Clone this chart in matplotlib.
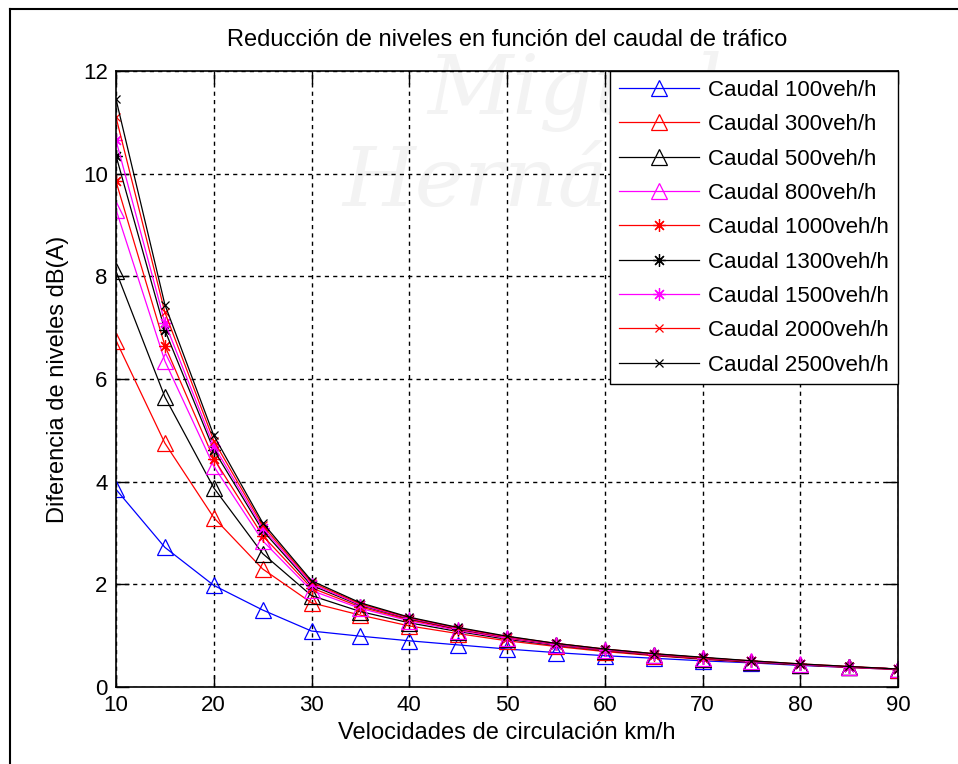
import matplotlib.pyplot as plt
from matplotlib.lines import Line2D

# Velocidades de circulacion (km/h)
velocidades = [10, 15, 20, 25, 30, 35, 40, 45, 50, 55, 60, 65, 70, 75, 80, 85, 90]

# Diferencia de niveles dB(A) para cada caudal
caudal_100 = [3.85, 2.72, 1.98, 1.50, 1.09, 0.99, 0.90, 0.82, 0.74, 0.67, 0.61, 0.56, 0.51, 0.47, 0.42, 0.38, 0.34]
caudal_300 = [6.75, 4.75, 3.30, 2.30, 1.64, 1.40, 1.19, 1.04, 0.90, 0.79, 0.69, 0.61, 0.54, 0.48, 0.43, 0.38, 0.34]
caudal_500 = [8.10, 5.65, 3.88, 2.60, 1.78, 1.47, 1.25, 1.08, 0.93, 0.81, 0.71, 0.62, 0.55, 0.49, 0.43, 0.39, 0.35]
caudal_800 = [9.30, 6.35, 4.30, 2.85, 1.88, 1.53, 1.29, 1.10, 0.95, 0.82, 0.72, 0.63, 0.56, 0.50, 0.44, 0.39, 0.35]
caudal_1000 = [9.85, 6.65, 4.45, 2.95, 1.93, 1.56, 1.31, 1.12, 0.96, 0.83, 0.72, 0.63, 0.56, 0.50, 0.44, 0.39, 0.35]
caudal_1300 = [10.35, 6.95, 4.62, 3.05, 1.98, 1.59, 1.33, 1.13, 0.97, 0.84, 0.73, 0.64, 0.57, 0.50, 0.44, 0.39, 0.35]
caudal_1500 = [10.65, 7.10, 4.70, 3.10, 2.01, 1.60, 1.34, 1.14, 0.97, 0.84, 0.73, 0.64, 0.57, 0.50, 0.44, 0.39, 0.35]
caudal_2000 = [11.10, 7.30, 4.80, 3.15, 2.04, 1.62, 1.35, 1.15, 0.98, 0.85, 0.74, 0.65, 0.57, 0.51, 0.45, 0.40, 0.35]
caudal_2500 = [11.45, 7.45, 4.90, 3.20, 2.07, 1.64, 1.36, 1.16, 0.99, 0.85, 0.74, 0.65, 0.58, 0.51, 0.45, 0.40, 0.35]

etiquetas = ['Caudal 100veh/h', 'Caudal 300veh/h', 'Caudal 500veh/h', 'Caudal 800veh/h',
             'Caudal 1000veh/h', 'Caudal 1300veh/h', 'Caudal 1500veh/h', 'Caudal 2000veh/h',
             'Caudal 2500veh/h']

series = [caudal_100, caudal_300, caudal_500, caudal_800, caudal_1000,
          caudal_1300, caudal_1500, caudal_2000, caudal_2500]

colores = ['blue', 'red', 'black', 'magenta', 'red', 'black', 'magenta', 'red', 'black']
asterisco = (8, 2, 0)
marcadores = ['^', '^', '^', '^', asterisco, asterisco, asterisco, 'x', 'x']
tam_marcador = [12, 12, 12, 12, 9, 9, 9, 6, 6]

plt.rcParams['font.family'] = ['Liberation Sans', 'DejaVu Sans']

fig = plt.figure(figsize=(9.58, 7.64), dpi=100)
ax = fig.add_axes([116 / 958, 1 - 687 / 764, (898 - 116) / 958, (687 - 71) / 764])

# marca de agua de fondo, por debajo de los ejes
fig.text(0.60, 0.88, 'Miguel', fontsize=60, style='italic', family='DejaVu Serif',
         color='#f3f3f3', ha='center', va='center', zorder=-5)
fig.text(0.60, 0.76, 'Hernández', fontsize=60, style='italic', family='DejaVu Serif',
         color='#f3f3f3', ha='center', va='center', zorder=-5)
ax.patch.set_alpha(0)

for y, c, m, ms, lab in zip(series, colores, marcadores, tam_marcador, etiquetas):
    ax.plot(velocidades, y, color=c, marker=m, markersize=ms, markerfacecolor='none',
            markeredgecolor=c, markeredgewidth=0.9, linewidth=0.9, label=lab)

ax.set_xlim(10, 90)
ax.set_ylim(0, 12)
ax.set_xticks(range(10, 91, 10))
ax.set_yticks(range(0, 13, 2))
ax.tick_params(direction='in', length=9, width=1, top=True, right=True, labelsize=16, pad=6)
for s in ax.spines.values():
    s.set_linewidth(1.2)
ax.grid(True, color='black', linestyle=(0, (3, 3)), linewidth=1.0)

ax.set_title('Reducción de niveles en función del caudal de tráfico', fontsize=17, pad=18)
ax.set_xlabel('Velocidades de circulación km/h', fontsize=17, labelpad=4)
ax.set_ylabel('Diferencia de niveles dB(A)', fontsize=17, labelpad=10)

leg = ax.legend(loc='upper right', borderaxespad=0, fontsize=16, frameon=True, fancybox=False,
                framealpha=1, handlelength=3.6, handletextpad=0.4, labelspacing=0.6,
                borderpad=0.4)
leg.get_frame().set_edgecolor('black')
leg.get_frame().set_linewidth(1.0)

# borde de la ventana
fig.add_artist(Line2D([10 / 958, 1], [1 - 9 / 764, 1 - 9 / 764], color='black', linewidth=1.5))
fig.add_artist(Line2D([10 / 958, 10 / 958], [0, 1 - 9 / 764], color='black', linewidth=1.5))

fig.savefig('out.png', dpi=100)
